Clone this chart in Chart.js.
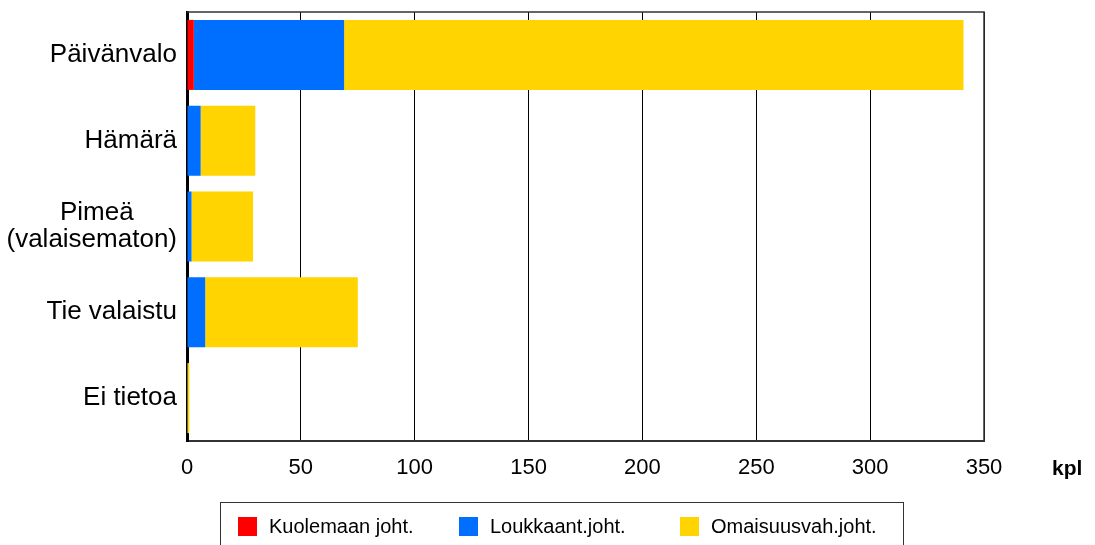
<!DOCTYPE html>
<html>
<head>
<meta charset="utf-8">
<script src="https://cdn.jsdelivr.net/npm/chart.js@4"></script>
<style>
  html, body { margin: 0; padding: 0; background: #fff; }
  #wrap { width: 1095px; height: 545px; }
</style>
</head>
<body>
<div id="wrap"><canvas id="valo"></canvas></div>
<script>
const luokat = ['Päivänvalo', 'Hämärä', ['Pimeä\u00a0\u00a0\u00a0\u00a0\u00a0\u00a0', '(valaisematon)'], 'Tie valaistu', 'Ei tietoa'];
const kuolemaan = [3, 0, 0, 0, 0];
const loukkaant = [66, 6, 2, 8, 0];
const omaisuus = [272, 24, 27, 67, 1];
const xTicks = [0, 50, 100, 150, 200, 250, 300, 350];

const fontti = 'Liberation Sans, Arial, sans-serif';

// frame, unit label and the boxed legend
const kehys = {
    id: 'kehys',
    afterDraw(chart) {
        const ctx = chart.ctx;
        const a = chart.chartArea;
        ctx.save();
        ctx.strokeStyle = '#333';
        ctx.lineWidth = 1.5;
        ctx.beginPath();
        ctx.moveTo(a.left, a.top);
        ctx.lineTo(a.right, a.top);
        ctx.lineTo(a.right, a.bottom);
        ctx.stroke();

        ctx.fillStyle = '#000';
        ctx.font = 'bold 21px ' + fontti;
        ctx.textBaseline = 'middle';
        ctx.textAlign = 'left';
        ctx.fillText('kpl', 1052, 469);

        // legend
        ctx.strokeStyle = '#333';
        ctx.lineWidth = 1;
        ctx.strokeRect(220.5, 502.5, 683, 60);
        ctx.font = '20px ' + fontti;
        chart.data.datasets.forEach((ds, i) => {
            const x0 = 238 + i * 221;
            ctx.fillStyle = ds.backgroundColor;
            ctx.fillRect(x0, 517, 19, 19);
            ctx.fillStyle = '#000';
            ctx.fillText(ds.label, x0 + 31, 527);
        });
        ctx.restore();
    }
};

new Chart(document.getElementById('valo'), {
    type: 'bar',
    data: {
        labels: luokat,
        datasets: [
            { label: 'Kuolemaan joht.', data: kuolemaan, backgroundColor: '#ff0000' },
            { label: 'Loukkaant.joht.', data: loukkaant, backgroundColor: '#006eff' },
            { label: 'Omaisuusvah.joht.', data: omaisuus, backgroundColor: '#ffd400' }
        ]
    },
    options: {
        indexAxis: 'y',
        responsive: true,
        maintainAspectRatio: false,
        animation: false,
        datasets: {
            bar: { barPercentage: 0.816, categoryPercentage: 1, borderWidth: 0 }
        },
        layout: {
            padding: { left: 0, right: 111, top: 12, bottom: 68 }
        },
        plugins: {
            legend: { display: false },
            tooltip: { enabled: false }
        },
        scales: {
            x: {
                stacked: true,
                min: 0,
                max: 350,
                afterBuildTicks: s => { s.ticks = xTicks.map(v => ({ value: v })); },
                afterFit: s => { s.height = 36; s.paddingLeft = 0; s.paddingRight = 0; },
                ticks: {
                    color: '#000',
                    padding: 14,
                    maxRotation: 0,
                    font: { family: fontti, size: 22 }
                },
                grid: { color: '#000', lineWidth: 1, drawTicks: false },
                border: { color: '#333', width: 2 }
            },
            y: {
                stacked: true,
                afterFit: s => { s.width = 187; s.paddingTop = 0; s.paddingBottom = 0; },
                ticks: {
                    color: '#000',
                    padding: 10,
                    font: { family: fontti, size: 26, lineHeight: 1.05 }
                },
                grid: { display: false, drawTicks: false },
                border: { color: '#000', width: 3 }
            }
        }
    },
    plugins: [kehys]
});
</script>
</body>
</html>
